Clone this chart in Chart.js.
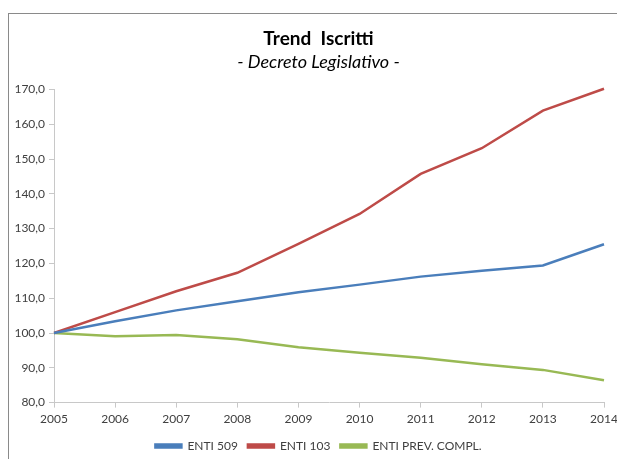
<!DOCTYPE html>
<html>
<head>
<meta charset="utf-8">
<script src="https://cdn.jsdelivr.net/npm/chart.js@4/dist/chart.umd.min.js"></script>
<style>
  html, body { margin: 0; padding: 0; background: #fff; }
  #wrap { position: relative; width: 617px; height: 459px; overflow: hidden; }
  #frame {
    position: absolute; left: 8px; top: 13px; width: 700px; height: 500px;
    border-left: 1px solid #8a8a8a; border-top: 1px solid #8a8a8a;
  }
  canvas { position: absolute; left: 0; top: 0; }
</style>
</head>
<body>
<div id="wrap">
  <div id="frame"></div>
  <canvas id="trendChart" width="617" height="459"></canvas>
</div>
<script>
const years = ['2005', '2006', '2007', '2008', '2009', '2010', '2011', '2012', '2013', '2014'];
const enti509 = [100.0, 103.4, 106.5, 109.1, 111.7, 113.9, 116.2, 117.9, 119.4, 125.5];
const enti103 = [100.0, 106.0, 112.0, 117.3, 125.6, 134.2, 145.7, 153.1, 163.9, 170.2];
const entiPrevCompl = [100.0, 99.1, 99.4, 98.2, 95.9, 94.3, 92.9, 91.0, 89.4, 86.4];

const axisColor = '#c8c8c8';
const textColor = '#404040';

// Excel-style number labels, e.g. 120,0
const fmt = v => v.toFixed(1).replace('.', ',');

// the chart box runs past the right edge, so titles and legend sit a bit right of the canvas middle
const centerShift = {
  id: 'centerShift',
  afterLayout(chart) {
    chart.boxes.forEach(b => {
      if (!b.axis) { b.left += 10; b.right += 10; }
    });
  }
};

new Chart(document.getElementById('trendChart'), {
  type: 'line',
  data: {
    labels: years,
    datasets: [
      { label: 'ENTI 509', data: enti509, borderColor: '#4a7ebb', backgroundColor: '#4a7ebb' },
      { label: 'ENTI 103', data: enti103, borderColor: '#be4b48', backgroundColor: '#be4b48' },
      { label: 'ENTI PREV. COMPL.', data: entiPrevCompl, borderColor: '#98b954', backgroundColor: '#98b954' }
    ]
  },
  plugins: [centerShift],
  options: {
    responsive: false,
    animation: false,
    clip: false,
    elements: {
      line: { borderWidth: 2.5, tension: 0 },
      point: { radius: 0, hoverRadius: 0 }
    },
    layout: { padding: { top: 15, left: 0, right: 0, bottom: -3 } },
    plugins: {
      title: {
        display: true,
        text: 'Trend  Iscritti',
        color: '#000',
        font: { family: 'Lato', size: 19, weight: 'bold' },
        padding: { top: 12, bottom: 0 }
      },
      subtitle: {
        display: true,
        text: '- Decreto Legislativo -',
        color: '#000',
        font: { family: 'Lato', size: 18, style: 'italic' },
        padding: { top: 2, bottom: 16 }
      },
      legend: {
        position: 'bottom',
        labels: {
          boxWidth: 26,
          boxHeight: 3,
          padding: 10,
          color: textColor,
          font: { family: 'Lato', size: 12 }
        }
      },
      tooltip: { enabled: false }
    },
    scales: {
      x: {
        offset: false,
        border: { display: true, color: axisColor },
        grid: { drawOnChartArea: false, drawTicks: true, tickLength: 5, color: axisColor },
        ticks: { color: textColor, font: { family: 'Lato', size: 12 }, padding: 4, maxRotation: 0 },
        // let the last year label run up to the canvas edge
        afterFit: scale => { scale.paddingRight = 13; scale.paddingLeft = 0; }
      },
      y: {
        min: 80,
        max: 170,
        border: { display: true, color: axisColor },
        grid: { drawOnChartArea: false, drawTicks: true, tickLength: 5, color: axisColor },
        ticks: {
          stepSize: 10,
          color: textColor,
          font: { family: 'Lato', size: 12 },
          padding: 4,
          callback: v => fmt(v)
        },
        afterFit: scale => { scale.width = 54; }
      }
    }
  }
});
</script>
</body>
</html>
